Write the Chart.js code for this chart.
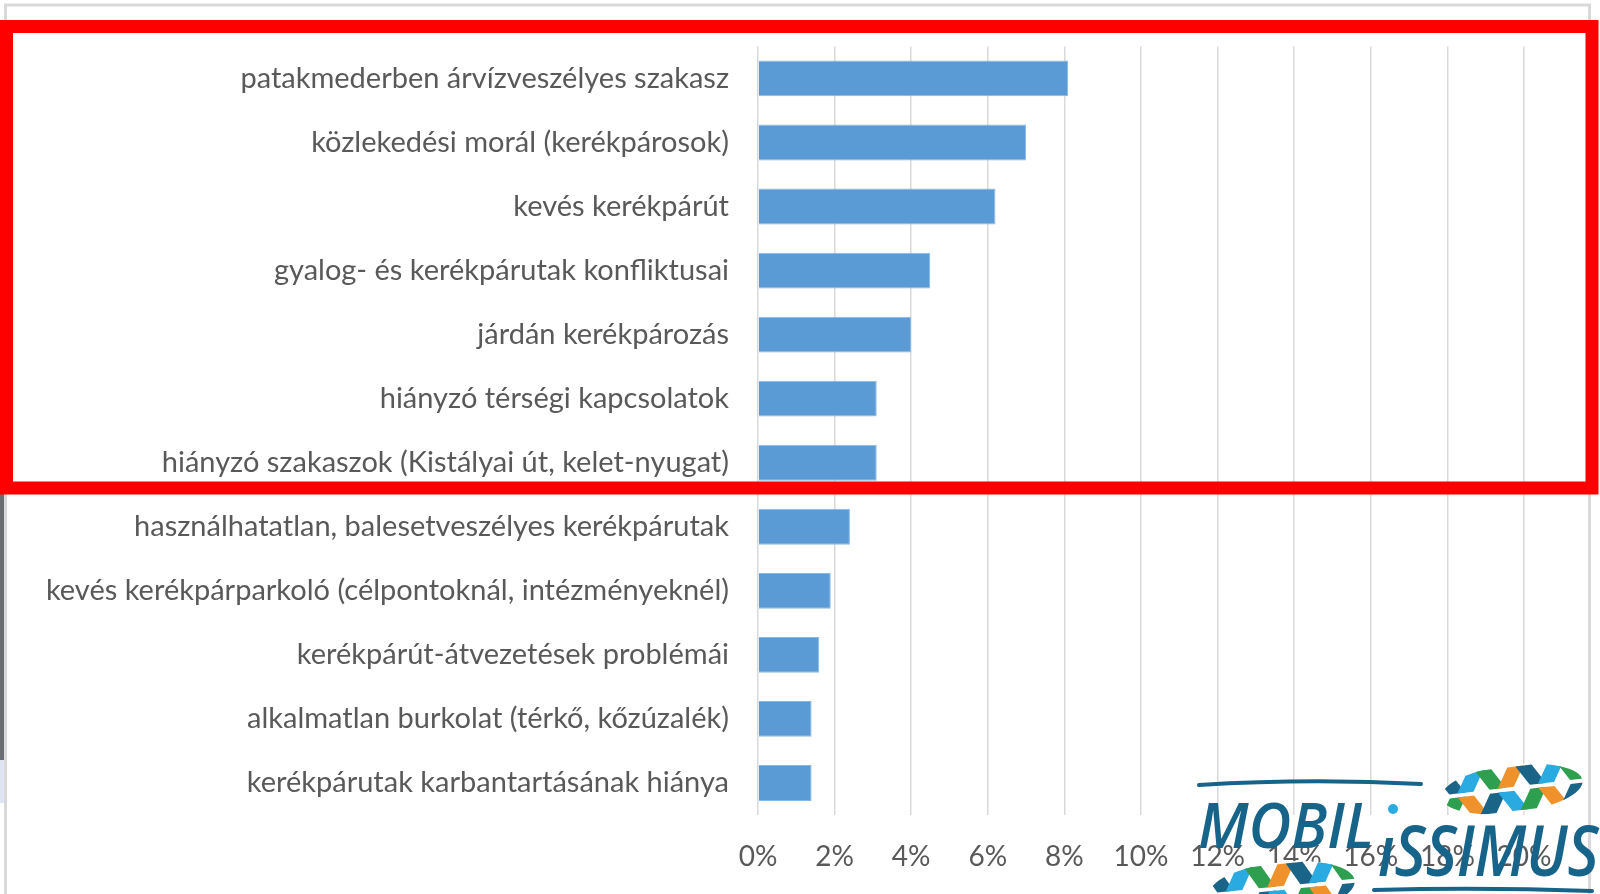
<!DOCTYPE html>
<html>
<head>
<meta charset="utf-8">
<script src="https://cdn.jsdelivr.net/npm/chart.js@4/dist/chart.umd.min.js"></script>
<style>
  html, body { margin: 0; padding: 0; background: #fff; }
  #wrap { width: 1600px; height: 894px; position: relative; }
</style>
</head>
<body>
<div id="wrap"><canvas id="chart" width="1600" height="894"></canvas></div>
<script>
// problem categories (top to bottom) and their share in %
const categories = [
    'patakmederben árvízveszélyes szakasz',
    'közlekedési morál (kerékpárosok)',
    'kevés kerékpárút',
    'gyalog- és kerékpárutak konfliktusai',
    'járdán kerékpározás',
    'hiányzó térségi kapcsolatok',
    'hiányzó szakaszok (Kistályai út, kelet-nyugat)',
    'használhatatlan, balesetveszélyes kerékpárutak',
    'kevés kerékpárparkoló (célpontoknál, intézményeknél)',
    'kerékpárút-átvezetések problémái',
    'alkalmatlan burkolat (térkő, kőzúzalék)',
    'kerékpárutak karbantartásának hiánya'
];
const shares = [8.1, 7.0, 6.2, 4.5, 4.0, 3.1, 3.1, 2.4, 1.9, 1.6, 1.4, 1.4];
const xMin = 0;
const xMax = 20;
const xStep = 2;

const FONT = 'Lato, "Open Sans", sans-serif';
const TEXT_GRAY = '#595959';

// red highlight box, frame and logo drawn over the chart
const overlay = {
    id: 'overlay',
    afterDraw(chart) {
        const c = chart.ctx;
        c.save();

        // frame of the original slide
        c.strokeStyle = '#d9d9d9';
        c.lineWidth = 3;
        c.beginPath();
        c.moveTo(5.5, 894);
        c.lineTo(5.5, 5);
        c.lineTo(1589.5, 5);
        c.lineTo(1589.5, 894);
        c.stroke();
        c.fillStyle = '#6b6f73';
        c.fillRect(0, 494, 4, 266);
        c.fillStyle = '#dfe5f3';
        c.fillRect(0, 760, 4, 43);

        // red highlight rectangle
        c.strokeStyle = '#ff0000';
        c.lineWidth = 13;
        c.strokeRect(6.5, 26.5, 1585.5, 461.5);

        drawLogo(c);
        c.restore();
    }
};

function footprint(c, cx, cy, w, h, rot) {
    const cols = ['#1a6488', '#f0922b', '#2e9e4f', '#29abe2'];
    c.save();
    c.translate(cx, cy);
    c.rotate(rot);
    c.beginPath();
    c.ellipse(0, 0, w / 2, h / 2, 0, 0, Math.PI * 2);
    c.clip();
    c.fillStyle = '#ffffff';
    c.fillRect(-w / 2, -h / 2, w, h);
    const cw = w / 7, ch = h / 2;
    let k = 0;
    for (let r = 0; r < 2; r++) {
        for (let i = 0; i < 7; i++) {
            const x0 = -w / 2 + i * cw, y0 = -h / 2 + r * ch;
            const sk = ((i + r) % 2 ? 1 : -1) * cw * 0.3;
            c.fillStyle = cols[(k * 3 + r) % 4];
            c.beginPath();
            c.moveTo(x0 + 2 + sk, y0 + 2);
            c.lineTo(x0 + cw - 2 + sk, y0 + 2);
            c.lineTo(x0 + cw - 2 - sk, y0 + ch - 2);
            c.lineTo(x0 + 2 - sk, y0 + ch - 2);
            c.closePath();
            c.fill();
            k++;
        }
    }
    c.restore();
}

function drawLogo(c) {
    const blue = '#17648a';
    c.strokeStyle = blue;
    c.lineCap = 'round';
    c.lineWidth = 4;
    c.beginPath();
    c.moveTo(1199, 785);
    c.quadraticCurveTo(1310, 778, 1421, 784);
    c.stroke();
    c.beginPath();
    c.moveTo(1374, 890);
    c.quadraticCurveTo(1480, 887, 1592, 891);
    c.stroke();

    footprint(c, 1512, 789, 142, 48, -0.12);
    footprint(c, 1282, 888, 146, 52, -0.1);

    c.fillStyle = blue;
    c.textBaseline = 'alphabetic';
    c.textAlign = 'left';
    c.font = 'italic 600 64px "Open Sans", sans-serif';
    c.save();
    c.translate(1198, 848);
    c.scale(0.92, 1);
    c.fillText('MOBIL', 0, 0);
    c.restore();
    c.font = 'italic 600 70px "Open Sans", sans-serif';
    c.save();
    c.translate(1378, 876);
    c.scale(0.86, 1);
    c.fillText('ıSSIMUS', 0, 0);
    c.restore();
    c.fillStyle = '#29abe2';
    c.beginPath();
    c.arc(1393, 809, 5, 0, Math.PI * 2);
    c.fill();
}

new Chart(document.getElementById('chart'), {
    type: 'bar',
    data: {
        labels: categories,
        datasets: [{
            data: shares,
            backgroundColor: '#5b9bd5',
            borderColor: '#8ab8e4',
            borderWidth: 1,
            barPercentage: 0.56,
            categoryPercentage: 1.0
        }]
    },
    options: {
        indexAxis: 'y',
        responsive: false,
        animation: false,
        layout: { padding: { left: 0, top: 42, right: 76, bottom: 0 } },
        plugins: {
            legend: { display: false },
            tooltip: { enabled: false }
        },
        scales: {
            x: {
                min: xMin,
                max: xMax,
                border: { display: false },
                grid: { color: '#d9d9d9', lineWidth: 1.5, drawTicks: false },
                ticks: {
                    stepSize: xStep,
                    padding: 25,
                    color: TEXT_GRAY,
                    font: { family: FONT, size: 28 },
                    callback: v => v + '%'
                },
                afterFit(s) { s.height = 79; }
            },
            y: {
                border: { display: false },
                grid: { display: false, drawTicks: false },
                ticks: {
                    padding: 29,
                    color: TEXT_GRAY,
                    font: { family: FONT, size: 29 },
                    autoSkip: false
                },
                afterFit(s) { s.width = 758; }
            }
        }
    },
    plugins: [overlay]
});
</script>
</body>
</html>
